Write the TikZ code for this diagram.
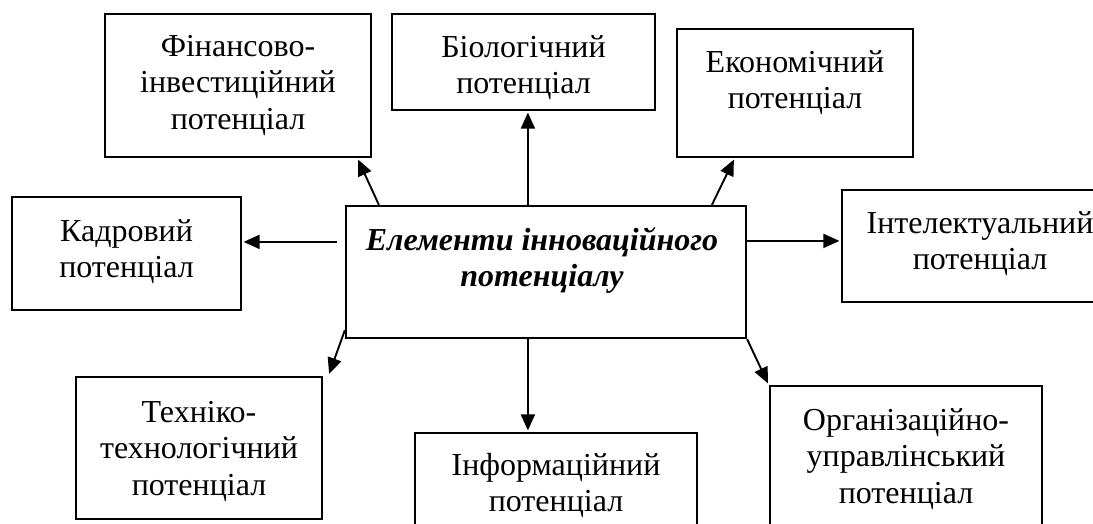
\documentclass[tikz,border=0pt]{standalone}
\usepackage{fontspec}
\setmainfont{Liberation Serif}
\usetikzlibrary{arrows.meta,calc}
\tikzset{
  box/.style={draw, line width=2.2pt, rectangle, inner sep=0pt},
  lbl/.style={font=\fontsize{32}{36.5}\selectfont, align=center, inner sep=0pt, anchor=north},
  arr/.style={line width=1.9pt, -{Triangle[length=16pt,width=14pt]}}
}
\begin{document}
\begin{tikzpicture}[x=1pt,y=-1pt]
\useasboundingbox (0,0) rectangle (1093,524);
\clip (0,0) rectangle (1093,524);
% boxes
\node[box, minimum width=266pt, minimum height=143pt] (fin) at (238,85.5) {};
\node[box, minimum width=263pt, minimum height=96pt] (bio) at (523.5,62) {};
\node[box, minimum width=236pt, minimum height=128pt] (econ) at (795,93) {};
\node[box, minimum width=229pt, minimum height=113pt] (kadr) at (126.5,253.5) {};
\node[box, minimum width=400pt, minimum height=132pt] (cent) at (546,272) {};
\node[box, minimum width=276pt, minimum height=112pt] (intel) at (980,246) {};
\node[box, minimum width=246pt, minimum height=142pt] (tekh) at (199,448) {};
\node[box, minimum width=282pt, minimum height=127pt] (inform) at (556,496.5) {};
\node[box, minimum width=272pt, minimum height=174pt] (org) at (906,473) {};
% labels
\node[lbl] (finT) at ($(fin.north)+(0pt,-22pt)$) {Фінансово-\\інвестиційний\\потенціал};
\node[lbl] (bioT) at ($(bio.north)+(0pt,-22pt)$) {Біологічний\\потенціал};
\node[lbl] (econT) at ($(econ.north)+(0pt,-22pt)$) {Економічний\\потенціал};
\node[lbl] (kadrT) at ($(kadr.north)+(0pt,-23pt)$) {Кадровий\\потенціал};
\node[lbl] (centT) at ($(cent.north)+(-4pt,-22pt)$) {\bfseries\itshape Елементи інноваційного\\\bfseries\itshape потенціалу};
\node[lbl] (intelT) at ($(intel.north)+(0pt,-22pt)$) {Інтелектуальний\\потенціал};
\node[lbl] (tekhT) at ($(tekh.north)+(0pt,-25pt)$) {Техніко-\\технологічний\\потенціал};
\node[lbl] (infT) at ($(inform.north)+(0pt,-21pt)$) {Інформаційний\\потенціал};
\node[lbl] (orgT) at ($(org.north)+(0pt,-23pt)$) {Організаційно-\\управлінський\\потенціал};
% connectors
\draw[arr] ($(cent.north west)+(34pt,0pt)$) -- ($(fin.south east)+(-14pt,-1.5pt)$);
\draw[arr] ($(cent.north west)+(183pt,0pt)$) -- ($(bio.south west)+(137pt,-1.5pt)$);
\draw[arr] ($(cent.north west)+(367pt,0pt)$) -- ($(econ.south west)+(58pt,-1.5pt)$);
\draw[arr] ($(cent.north west)+(-8pt,-37pt)$) -- ($(kadr.north east)+(1.5pt,-46pt)$);
\draw[arr] ($(cent.north east)+(0pt,-36pt)$) -- ($(intel.north west)+(-1.5pt,-52pt)$);
\draw[arr] ($(cent.south west)+(0pt,9pt)$) -- ($(tekh.north east)+(6pt,2pt)$);
\draw[arr] ($(cent.south west)+(183pt,0pt)$) -- ($(inform.north west)+(114pt,1.5pt)$);
\draw[arr] (cent.south east) -- ($(org.north west)+(-1pt,1.5pt)$);
\end{tikzpicture}
\end{document}
